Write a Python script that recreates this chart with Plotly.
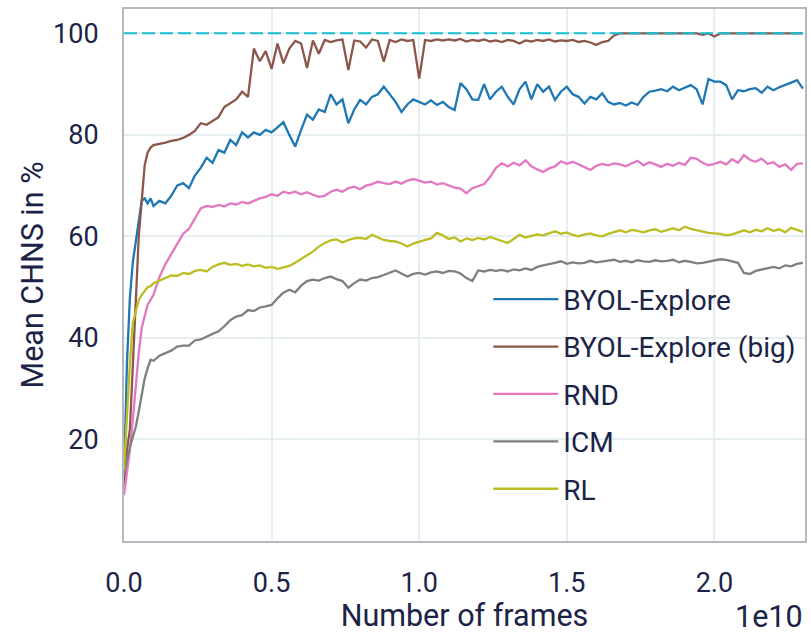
import plotly.graph_objects as go

# x values in units of 1e10 frames
frames = [0.00, 0.01, 0.02, 0.03, 0.04, 0.05, 0.06, 0.07, 0.08, 0.09, 0.10,
          0.12, 0.14, 0.16, 0.18, 0.20, 0.22, 0.24, 0.26, 0.28, 0.30,
          0.32, 0.34, 0.36, 0.38, 0.40, 0.42, 0.44, 0.46, 0.48, 0.50,
          0.52, 0.54, 0.56, 0.58, 0.60, 0.62, 0.64, 0.66, 0.68, 0.70,
          0.72, 0.74, 0.76, 0.78, 0.80, 0.82, 0.84, 0.86, 0.88, 0.90,
          0.92, 0.94, 0.96, 0.98, 1.00, 1.02, 1.04, 1.06, 1.08, 1.10,
          1.12, 1.14, 1.16, 1.18, 1.20, 1.22, 1.24, 1.26, 1.28, 1.30,
          1.32, 1.34, 1.36, 1.38, 1.40, 1.42, 1.44, 1.46, 1.48, 1.50,
          1.52, 1.54, 1.56, 1.58, 1.60, 1.62, 1.64, 1.66, 1.68, 1.70,
          1.72, 1.74, 1.76, 1.78, 1.80, 1.82, 1.84, 1.86, 1.88, 1.90,
          1.92, 1.94, 1.96, 1.98, 2.00, 2.02, 2.04, 2.06, 2.08, 2.10,
          2.12, 2.14, 2.16, 2.18, 2.20, 2.22, 2.24, 2.26, 2.28, 2.30]

byol_explore = [12, 35, 48, 55, 59, 63, 67, 67.5, 66.5, 67.5, 66,
                67, 66.5, 68, 70, 70.5, 69.5, 72, 73.5, 75.5, 74.5,
                77, 76.5, 79, 78, 80.5, 79.5, 80.5, 80, 81, 80.5,
                81.5, 82.5, 80, 77.7, 81, 84, 83, 85, 84.5, 88,
                86, 87, 82.3, 85, 86.9, 86, 87.5, 88, 89.5, 88,
                86.5, 84.5, 86, 87, 86.5, 86, 86.8, 85.9, 86.5, 85.5,
                84.9, 90.2, 89, 87, 86.9, 90, 87, 88.5, 89.5, 87.5,
                86, 89, 90.5, 87, 90, 88.5, 89.5, 86.9, 88.5, 89.5,
                88, 87.5, 86.2, 87.5, 87, 88.2, 86.5, 86, 86.3, 85.8,
                86.4, 85.9, 87.5, 88.5, 88.7, 89, 88.6, 89.5, 88.8, 89.3,
                89.8, 89, 86, 91, 90.5, 90.5, 89.8, 87, 88.8, 88.6,
                89, 89.2, 88.3, 89.5, 88.8, 89.4, 89.8, 90.3, 90.8, 89.1]

byol_explore_big = [10, 18, 22, 35, 48, 60, 67, 74, 76.5, 77.5, 78,
                    78.2, 78.5, 78.8, 79, 79.4, 80, 80.8, 82.3, 82, 82.8,
                    83.5, 85.5, 86.2, 87, 88.5, 87.5, 97, 94.5, 96.5, 93,
                    98, 94.1, 97, 98.5, 98, 93.2, 98.6, 96, 98.7, 98.3,
                    98.6, 98.8, 92.8, 98.6, 98.4, 97.2, 98.8, 98.5, 94.4, 98.7,
                    98.3, 98.8, 98.5, 98.7, 91.1, 98.7, 98.5, 98.8, 98.6, 98.8,
                    98.6, 98.9, 98.4, 98.7, 98.5, 98.8, 98.4, 98.6, 98.3, 98.7,
                    98.5, 98.0, 98.6, 98.4, 98.7, 98.5, 98.8, 98.4, 98.6, 98.5,
                    98.7, 98.3, 98.5, 98.2, 97.7, 98.3, 98.5, 99.6, 100, 100,
                    100, 100, 100, 100, 100, 100, 100, 100, 100, 100,
                    100, 100, 99.7, 100, 99.4, 100, 100, 100, 100, 100,
                    100, 100, 100, 100, 100, 100, 100, 100, 100, 100]

rnd = [9, 13, 18, 24, 31, 37, 42, 44.5, 46.5, 47.5, 48.5,
       52, 54.5, 56.5, 58.5, 60.5, 61.5, 63.5, 65.5, 66, 65.8,
       66.2, 65.9, 66.5, 66.3, 66.8, 66.5, 67, 67.5, 67.8, 68.3,
       68.0, 68.8, 68.5, 68.8, 68.3, 68.7, 68.2, 67.8, 68, 68.8,
       69.2, 68.8, 69.5, 69.8, 69.3, 70, 70.3, 70.8, 70.5, 70.3,
       70.8, 70.4, 71, 71.3, 71, 70.6, 70.8, 70.2, 70.5, 70,
       69.6, 69.4, 68.5, 69.5, 69.9, 70.3, 71.7, 73.5, 74.4, 73.8,
       74.5, 74, 75, 73.8, 73.2, 72.7, 73.4, 73.8, 74.8, 74.3,
       74.7, 74.2, 73.6, 73.1, 73.9, 74.3, 74, 74.4, 74.2, 73.8,
       74.4, 74.9, 74, 74.6, 74.2, 73.7, 74.3, 73.9, 74.5, 74.1,
       75.5, 75.3, 74.5, 74, 74.3, 74.7, 74.2, 75.2, 74.5, 76,
       75.1, 74.7, 75.3, 74.3, 74.6, 73.7, 74.2, 73.1, 74.3, 74.4]

icm = [13, 16, 18.5, 20.5, 22.5, 25.5, 29, 32, 34, 35.7, 35.5,
       36.5, 37, 37.5, 38.3, 38.5, 38.5, 39.5, 39.7, 40.3, 40.8,
       41.3, 42.3, 43.5, 44.2, 44.5, 45.5, 45.3, 46, 46.2, 46.5,
       47.8, 48.9, 49.5, 49, 50.3, 51.2, 51.5, 51.3, 51.8, 52.1,
       51.6, 51.2, 49.9, 50.8, 51.5, 51.3, 51.8, 52, 52.4, 52.8,
       53.3, 52.7, 52.1, 52.6, 52.8, 52.5, 52.9, 53.1, 52.8, 53.2,
       53.1, 52.7, 51.8, 51.2, 53.3, 53.1, 53.4, 53.2, 53.4, 53.1,
       53.5, 53.3, 53.7, 53.4, 54, 54.3, 54.5, 54.8, 55.1, 54.6,
       54.9, 54.7, 54.8, 55.2, 54.9, 55.1, 55.3, 55.4, 55, 55.2,
       54.9, 55.3, 55.1, 55, 55.3, 55.1, 55.2, 55.4, 54.9, 55.2,
       55, 54.7, 54.8, 55, 55.2, 55.5, 55.4, 55.1, 54.8, 52.8,
       52.6, 53.2, 53.5, 53.8, 54, 53.7, 54.3, 54.1, 54.6, 54.8]

rl = [14, 25, 35, 43, 45.5, 47.5, 48.5, 49.3, 50, 50.2, 50.8,
      51.3, 51.8, 52.3, 52.2, 52.8, 52.6, 53.2, 53.4, 53.1, 54,
      54.5, 54.8, 54.4, 54.6, 54.2, 54.5, 54.1, 54.3, 53.8, 54,
      53.6, 53.9, 54.2, 54.8, 55.6, 56.3, 57, 58, 58.7, 59.2,
      59.4, 58.8, 59.3, 59.6, 59.7, 59.5, 60.3, 59.8, 59.3, 59.1,
      59.0, 58.6, 58.0, 58.6, 59, 59.3, 59.6, 60.7, 60.2, 59.5,
      59.8, 59, 59.6, 59.3, 59.7, 59.4, 59.9, 59.5, 59.2, 58.7,
      59.5, 60.3, 59.8, 60.1, 60.4, 60.2, 60.6, 61, 60.5, 60.8,
      60.3, 60, 60.4, 60.6, 60.2, 60, 60.5, 60.9, 61.2, 60.8,
      61.3, 61.1, 60.8, 61.2, 61.4, 60.9, 61.3, 61.6, 61.2, 61.9,
      61.5, 61.2, 60.9, 60.7, 60.6, 60.5, 60.2, 60.4, 60.8, 61.2,
      60.8, 61.3, 61, 61.6, 61.1, 61.4, 60.8, 61.7, 61.3, 60.9]

series_names = ["BYOL-Explore", "BYOL-Explore (big)", "RND", "ICM", "RL"]
series_values = [byol_explore, byol_explore_big, rnd, icm, rl]
series_colors = ["#1f77b4", "#8c564b", "#e377c2", "#7f7f7f", "#bcbd22"]

target_level = 100
x_tick_vals = [0.0, 0.5, 1.0, 1.5, 2.0]
x_tick_text = ["0.0", "0.5", "1.0", "1.5", "2.0"]
y_tick_vals = [20, 40, 60, 80, 100]

text_color = "#1b2447"
grid_color = "#e7eef1"
frame_color = "#b2b7c0"

fig = go.Figure()
for i, (name, vals, col) in enumerate(zip(series_names, series_values, series_colors)):
    fig.add_trace(go.Scatter(x=frames, y=vals, mode="lines", name=name,
                             line=dict(color=col, width=2.3),
                             legendgroup=f"g{i}"))

fig.add_hline(y=target_level, line=dict(color="#17becf", width=2, dash="13px,5px"))

fig.update_layout(
    width=811, height=633,
    margin=dict(l=124, r=4, t=9, b=92),
    paper_bgcolor="white", plot_bgcolor="white",
    font=dict(family="Roboto", color=text_color),
    showlegend=True,
    legend=dict(x=0.535, y=0.501, xanchor="left", yanchor="top",
                bgcolor="rgba(0,0,0,0)", borderwidth=0,
                font=dict(size=28, color=text_color),
                itemwidth=65,
                tracegroupgap=8, traceorder="grouped"),
)
fig.update_xaxes(range=[0, 2.307], tickvals=x_tick_vals, ticktext=x_tick_text,
                 showgrid=True, gridcolor=grid_color, gridwidth=1.5,
                 zeroline=False, showline=True, linecolor=frame_color, linewidth=2,
                 mirror=True, ticks="", tickfont=dict(size=27, color=text_color),
                 ticklabelstandoff=17,
                 title=dict(text="Number of frames", font=dict(size=30.5, color=text_color),
                            standoff=8))
fig.update_yaxes(range=[0, 104.8], tickvals=y_tick_vals,
                 showgrid=True, gridcolor=grid_color, gridwidth=1.5,
                 zeroline=False, showline=True, linecolor=frame_color, linewidth=2,
                 mirror=True, ticks="", tickfont=dict(size=27, color=text_color),
                 ticklabelstandoff=18,
                 title=dict(text="Mean CHNS in %", font=dict(size=30.5, color=text_color),
                            standoff=0))
fig.add_annotation(text="1e10", xref="paper", yref="paper", x=1.0, y=-0.141,
                   xanchor="right", yanchor="middle", showarrow=False,
                   font=dict(size=30.5, color=text_color))

fig.write_html("out.html", config={"displayModeBar": False},
               post_script="document.body.style.margin='0';")
